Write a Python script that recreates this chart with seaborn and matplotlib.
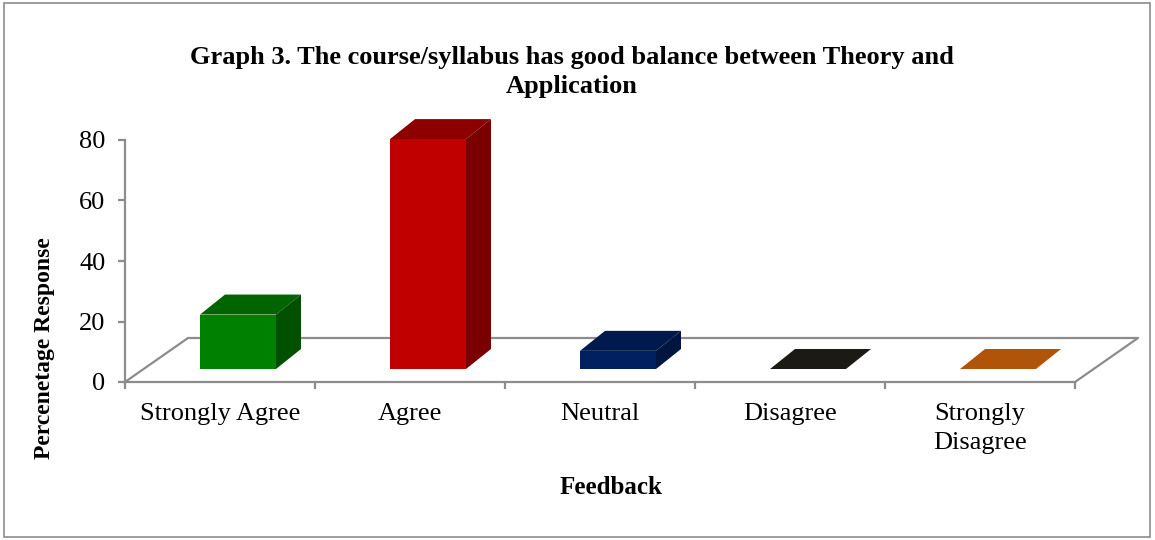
import pandas as pd
import seaborn as sns
import matplotlib.pyplot as plt
from matplotlib.patches import Polygon, Rectangle

# 1. Données
categories = ['Strongly Agree', 'Agree', 'Neutral', 'Disagree', 'Strongly\nDisagree']
pourcentages = [18, 76, 6, 0, 0]
y_ticks = [0, 20, 40, 60, 80]

# Couleurs : face avant, dessus, côté
couleurs_face = ['#008000', '#C00000', '#002060', '#1C1A14', '#B0540A']
couleurs_dessus = ['#006400', '#8E0000', '#001A4E', '#1C1A14', '#B0540A']
couleurs_cote = ['#005000', '#7A0000', '#001540', '#14120E', '#8A4008']

df = pd.DataFrame({'Feedback': categories, 'Pourcentage': pourcentages})

sns.set_style('white')
plt.rcParams['font.family'] = ['Liberation Serif', 'DejaVu Serif']
plt.rcParams['text.color'] = 'black'

W, H = 1155, 540
fig = plt.figure(figsize=(W / 100, H / 100), dpi=100)
ax = fig.add_axes([125 / W, 158 / H, 950 / W, 242 / H])

sns.barplot(data=df, x='Feedback', y='Pourcentage', hue='Feedback',
            palette=couleurs_face, width=0.4, saturation=1, legend=False, ax=ax, zorder=3)
ax.set_xlim(-0.5, 4.5)
ax.set_ylim(0, 80)

# 2. Effet 3D (pixels -> unités de données)
px_x = 5 / 950
px_y = 80 / 242
dx, dy = 25 * px_x, 20 * px_y
for i, p in enumerate(ax.patches):
    x0 = p.get_x() + 18 * px_x
    y0 = 13 * px_y
    w, h = p.get_width(), p.get_height()
    p.set_x(x0)
    p.set_y(y0)
    p.set_edgecolor('none')
    p.set_clip_on(False)
    dessus = Polygon([(x0, y0 + h), (x0 + w, y0 + h), (x0 + w + dx, y0 + h + dy), (x0 + dx, y0 + h + dy)],
                     closed=True, facecolor=couleurs_dessus[i], edgecolor='none', clip_on=False, zorder=3)
    cote = Polygon([(x0 + w, y0), (x0 + w + dx, y0 + dy), (x0 + w + dx, y0 + h + dy), (x0 + w, y0 + h)],
                   closed=True, facecolor=couleurs_cote[i], edgecolor='none', clip_on=False, zorder=3)
    ax.add_patch(dessus)
    ax.add_patch(cote)

# 3. Sol en perspective
gris = '#8C8C8C'
fx, fy = 63 / 950, 44 / 242
ax.plot([0, fx, 1 + fx, 1], [0, fy, fy, 0], transform=ax.transAxes,
        color=gris, lw=1.6, clip_on=False, zorder=1)

# 4. Axes et étiquettes
for cote_ax in ['top', 'right']:
    ax.spines[cote_ax].set_visible(False)
for cote_ax in ['left', 'bottom']:
    ax.spines[cote_ax].set_color(gris)
    ax.spines[cote_ax].set_linewidth(1.6)

ax.set_yticks(y_ticks)
ax.tick_params(axis='y', left=True, length=5, width=1.6, color=gris, pad=9, labelsize=19, labelcolor='black')
ax.set_xticks(range(len(categories)))
ax.set_xticklabels(categories, fontsize=19, linespacing=1.4)
ax.set_xticks([k - 0.5 for k in range(len(categories) + 1)], minor=True)
ax.tick_params(axis='x', which='major', bottom=False, length=0, pad=15, labelcolor='black')
ax.tick_params(axis='x', which='minor', bottom=True, length=5, width=1.6, color=gris)
ax.set_xlabel('')
ax.set_ylabel('')

fig.text(611 / W, 1 - 487 / H, 'Feedback', ha='center', va='center', fontsize=18, fontweight='bold')
fig.text(45 / W, 1 - 348 / H, 'Percenetage Response', ha='center', va='center', rotation=90,
         fontsize=17, fontweight='bold')
fig.text(572 / W, 1 - 72 / H, 'Graph 3. The course/syllabus has good balance between Theory and\nApplication',
         ha='center', va='center', fontsize=19, fontweight='bold', linespacing=1.35)

# Cadre du graphique
fig.patches.append(Rectangle((4 / W, 3 / H), 1146 / W, 534 / H, transform=fig.transFigure,
                             fill=False, edgecolor=gris, lw=1.2))

plt.savefig('out.png', dpi=100)
